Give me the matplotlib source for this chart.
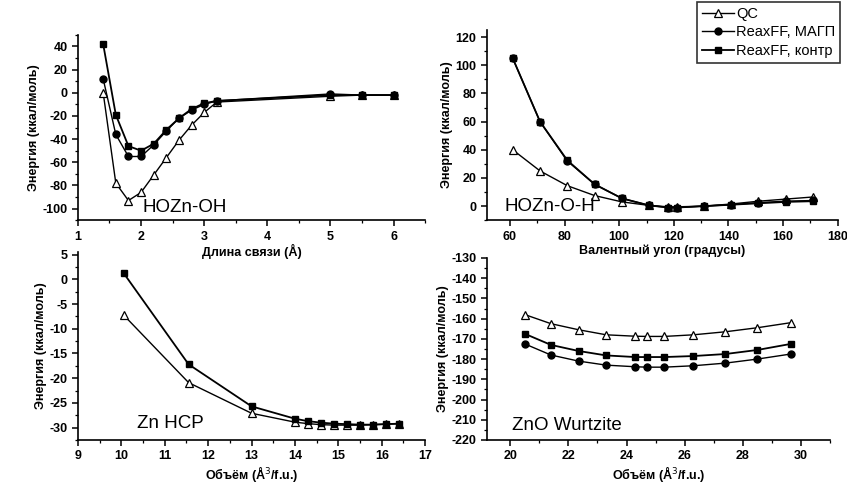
import numpy as np
import matplotlib.pyplot as plt
from matplotlib.ticker import MultipleLocator

plt.rcParams['font.family'] = ['Liberation Sans', 'DejaVu Sans']
plt.rcParams['axes.unicode_minus'] = False

# HOZn-OH: energy vs bond length
bond = [1.4, 1.6, 1.8, 2.0, 2.2, 2.4, 2.6, 2.8, 3.0, 3.2, 5.0, 5.5, 6.0]
bond_qc = [0, -78, -93, -86, -71, -56, -41, -28, -17, -8, -3, -2, -2]
bond_magp = [12, -36, -55, -55, -45, -33, -22, -15, -10, -7, -1, -2, -2]
bond_contr = [42, -19, -46, -50, -44, -32, -22, -14, -9, -7, -2, -2, -2]

# HOZn-O-H: energy vs valence angle
angle = [61, 71, 81, 91, 101, 111, 118, 121, 131, 141, 151, 161, 171]
angle_qc = [40, 25, 14.5, 7.5, 3, 0.5, -0.5, -0.5, 0, 1.5, 3.5, 5, 6.5]
angle_magp = [105, 60, 32, 15.5, 5.5, 0.5, -1, -1, 0, 1, 2.5, 3.5, 4]
angle_contr = [105, 60, 32.5, 15.5, 5.5, 0.5, -1, -1, 0, 1, 2, 3, 3.5]

# Zn HCP: energy vs volume
vol_zn = [10.05, 11.55, 13.0, 14.0, 14.3, 14.6, 14.9, 15.2, 15.5, 15.8, 16.1, 16.4]
zn_qc = [-7.2, -20.9, -27.1, -28.9, -29.2, -29.4, -29.5, -29.5, -29.5, -29.4, -29.3, -29.2]
zn_contr = [1.3, -17.2, -25.7, -28.2, -28.7, -29.0, -29.2, -29.3, -29.4, -29.4, -29.3, -29.2]

# ZnO wurtzite: energy vs volume
vol_zno = [20.5, 21.4, 22.35, 23.3, 24.3, 24.7, 25.3, 26.3, 27.4, 28.5, 29.65]
zno_qc = [-158, -162.5, -165.5, -168, -168.7, -168.8, -168.8, -168, -166.5, -164.5, -162]
zno_magp = [-172.5, -178, -181, -183, -183.8, -184, -184, -183.3, -182, -180, -177.5]
zno_contr = [-167.5, -173, -176, -178.2, -179, -179, -179, -178.5, -177.5, -175.5, -172.5]

labels = ['QC', 'ReaxFF, МАГП', 'ReaxFF, контр']
ylab = 'Энергия (ккал/моль)'


def qc(ax, x, y):
    return ax.plot(x, y, '-^', color='black', lw=1, ms=6, mfc='white', mec='black', mew=0.9)


def magp(ax, x, y):
    return ax.plot(x, y, '-o', color='black', lw=1, ms=5)


def contr(ax, x, y):
    return ax.plot(x, y, '-s', color='black', lw=1.3, ms=5)


def style(ax, xmaj, xmin, ymaj, ymin):
    ax.patch.set_alpha(0)
    for s in ['top', 'right']:
        ax.spines[s].set_visible(False)
    for s in ['left', 'bottom']:
        ax.spines[s].set_linewidth(1.2)
    ax.xaxis.set_major_locator(MultipleLocator(xmaj))
    ax.xaxis.set_minor_locator(MultipleLocator(xmin))
    ax.yaxis.set_major_locator(MultipleLocator(ymaj))
    ax.yaxis.set_minor_locator(MultipleLocator(ymin))
    ax.tick_params(which='major', length=4, width=1.1, labelsize=9)
    ax.tick_params(which='minor', length=2, width=0.9)
    for t in ax.get_xticklabels() + ax.get_yticklabels():
        t.set_fontweight('bold')


fig = plt.figure(figsize=(8.47, 4.84), dpi=100)

# top left
ax1 = fig.add_axes([0.092, 0.545, 0.410, 0.383])
qc(ax1, bond, bond_qc)
magp(ax1, bond, bond_magp)
contr(ax1, bond, bond_contr)
ax1.set_xlim(1, 6.5)
ax1.set_ylim(-110, 50)
style(ax1, 1, 0.5, 20, 10)
ax1.set_xlabel('Длина связи (Å)', fontsize=9, fontweight='bold', labelpad=1)
ax1.set_ylabel(ylab, fontsize=9, fontweight='bold', labelpad=2)
ax1.text(0.187, 0.07, 'HOZn-OH', transform=ax1.transAxes, fontsize=13.5, va='center')

# top right
ax2 = fig.add_axes([0.575, 0.545, 0.414, 0.393])
l1, = qc(ax2, angle, angle_qc)
l2, = magp(ax2, angle, angle_magp)
l3, = contr(ax2, angle, angle_contr)
ax2.set_xlim(51.6, 180)
ax2.set_ylim(-10, 125)
style(ax2, 20, 10, 20, 10)
ax2.set_xlabel('Валентный угол (градусы)', fontsize=9, fontweight='bold', labelpad=1)
ax2.set_ylabel(ylab, fontsize=9, fontweight='bold', labelpad=2)
ax2.text(0.05, 0.07, 'HOZn-O-H', transform=ax2.transAxes, fontsize=13.5, va='center')

leg = fig.legend([l1, l2, l3], labels, loc='upper right', bbox_to_anchor=(0.992, 0.996),
                 fontsize=10.5, frameon=True, fancybox=False, edgecolor='black',
                 handlelength=2.2, handletextpad=0.15, borderpad=0.35, labelspacing=0.3,
                 borderaxespad=0)
leg.get_frame().set_linewidth(1.2)

# bottom left
ax3 = fig.add_axes([0.092, 0.091, 0.410, 0.388])
qc(ax3, vol_zn, zn_qc)
contr(ax3, vol_zn, zn_contr)
ax3.set_xlim(9, 17)
ax3.set_ylim(-32.5, 5.5)
style(ax3, 1, 0.5, 5, 2.5)
ax3.set_xlabel('Объём (Å$^3$/f.u.)', fontsize=9, fontweight='bold', labelpad=1)
ax3.set_ylabel(ylab, fontsize=9, fontweight='bold', labelpad=2)
ax3.text(0.17, 0.09, 'Zn HCP', transform=ax3.transAxes, fontsize=13.5, va='center')

# bottom right
ax4 = fig.add_axes([0.575, 0.091, 0.405, 0.376])
qc(ax4, vol_zno, zno_qc)
magp(ax4, vol_zno, zno_magp)
contr(ax4, vol_zno, zno_contr)
ax4.set_xlim(19.2, 31)
ax4.set_ylim(-220, -130)
style(ax4, 2, 1, 10, 5)
ax4.set_xlabel('Объём (Å$^3$/f.u.)', fontsize=9, fontweight='bold', labelpad=1)
ax4.set_ylabel(ylab, fontsize=9, fontweight='bold', labelpad=2)
ax4.text(0.073, 0.08, 'ZnO Wurtzite', transform=ax4.transAxes, fontsize=13.5, va='center')

fig.savefig('out.png', dpi=100)
